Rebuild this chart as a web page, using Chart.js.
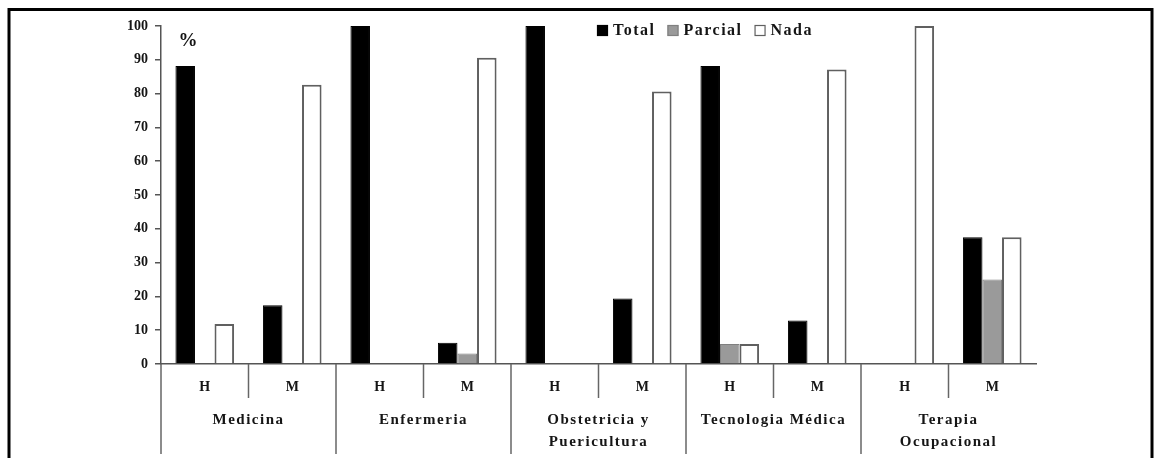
<!DOCTYPE html>
<html>
<head>
<meta charset="utf-8">
<script src="https://cdn.jsdelivr.net/npm/chart.js@4"></script>
<style>
  html, body { margin: 0; padding: 0; background: #fff; }
  #wrap { position: relative; width: 1157px; height: 458px; }
</style>
</head>
<body>
<div id="wrap"><canvas id="grafico" width="1157" height="458"></canvas></div>
<script>
// datos (%)
const categorias = ["H", "M", "H", "M", "H", "M", "H", "M", "H", "M"];
const carreras = [["Medicina"], ["Enfermeria"], ["Obstetricia y", "Puericultura"], ["Tecnologia Médica"], ["Terapia", "Ocupacional"]];
const total = [88.2, 17.4, 100, 6.3, 100, 19.4, 88.2, 12.9, 0, 37.5];
const parcial = [0, 0, 0, 3.1, 0, 0, 5.9, 0, 0, 25];
const nada = [11.8, 82.6, 0, 90.6, 0, 80.6, 5.9, 87.1, 100, 37.5];
const yTicks = [0, 10, 20, 30, 40, 50, 60, 70, 80, 90, 100];

const serif = "'Liberation Serif', 'Times New Roman', serif";
const textColor = "#151515";

const extras = {
    id: "extras",
    beforeDraw(chart) {
        const ctx = chart.ctx;
        ctx.save();
        ctx.fillStyle = "#fff";
        ctx.fillRect(0, 0, chart.width, chart.height);
        ctx.restore();
    },
    afterDraw(chart) {
        const ctx = chart.ctx;
        const x = chart.scales.x;
        const area = chart.chartArea;
        const paso = x.getPixelForValue(1) - x.getPixelForValue(0);

        ctx.save();
        // marco exterior
        ctx.strokeStyle = "#000";
        ctx.lineWidth = 3;
        ctx.strokeRect(9, 9.5, 1143, 520);

        // separadores del eje x
        ctx.strokeStyle = "#666";
        ctx.lineWidth = 1.5;
        carreras.forEach((c, i) => {
            const xH = x.getPixelForValue(2 * i);
            const xM = x.getPixelForValue(2 * i + 1);
            const izq = xH - paso / 2;
            const medio = (xH + xM) / 2;
            ctx.beginPath();
            ctx.moveTo(izq, area.bottom);
            ctx.lineTo(izq, area.bottom + 90);
            ctx.stroke();
            ctx.beginPath();
            ctx.moveTo(medio, area.bottom);
            ctx.lineTo(medio, area.bottom + 34);
            ctx.stroke();
        });

        // nombres de carreras
        ctx.fillStyle = textColor;
        ctx.font = "bold 15px " + serif;
        ctx.letterSpacing = "1.5px";
        ctx.textAlign = "center";
        ctx.textBaseline = "middle";
        carreras.forEach((c, i) => {
            const medio = (x.getPixelForValue(2 * i) + x.getPixelForValue(2 * i + 1)) / 2;
            c.forEach((linea, j) => {
                ctx.fillText(linea, medio, area.bottom + 56 + j * 22);
            });
        });

        // simbolo %
        ctx.font = "bold 19px " + serif;
        ctx.letterSpacing = "0px";
        ctx.fillText("%", area.left + 27, area.top + 15);

        // leyenda
        ctx.font = "bold 16px " + serif;
        ctx.letterSpacing = "1.5px";
        ctx.textAlign = "left";
        let lx = 597;
        const ly = 31;
        chart.data.datasets.forEach(ds => {
            ctx.fillStyle = ds.backgroundColor;
            ctx.fillRect(lx, ly - 6, 11, 11);
            ctx.strokeStyle = ds.borderColor;
            ctx.lineWidth = 1.2;
            ctx.strokeRect(lx + 0.5, ly - 5.5, 10, 10);
            ctx.fillStyle = textColor;
            ctx.fillText(ds.label, lx + 16, ly);
            lx += 16 + ctx.measureText(ds.label).width + 12;
        });
        ctx.restore();
    }
};

new Chart(document.getElementById("grafico").getContext("2d"), {
    type: "bar",
    data: {
        labels: categorias,
        datasets: [
            { label: "Total", data: total, backgroundColor: "#000", borderColor: "#000", borderWidth: 1 },
            { label: "Parcial", data: parcial, backgroundColor: "#9a9a9a", borderColor: "#808080", borderWidth: 1 },
            { label: "Nada", data: nada, backgroundColor: "#fff", borderColor: "#606060", borderWidth: 2 }
        ]
    },
    options: {
        responsive: false,
        animation: false,
        datasets: { bar: { categoryPercentage: 0.67, barPercentage: 1 } },
        layout: { padding: { left: 0, right: 121, top: 26, bottom: 0 } },
        plugins: {
            legend: { display: false },
            tooltip: { enabled: false }
        },
        scales: {
            y: {
                min: 0,
                max: 100,
                afterBuildTicks: scale => { scale.ticks = yTicks.map(v => ({ value: v })); },
                afterFit: scale => { scale.width = 161; },
                grid: { drawOnChartArea: false, tickLength: 6, color: "#555", lineWidth: 1.5 },
                border: { color: "#555", width: 1.5 },
                ticks: {
                    padding: 7,
                    color: textColor,
                    font: { family: serif, size: 14, weight: "bold" }
                }
            },
            x: {
                afterFit: scale => { scale.height = 94; },
                grid: { display: false, drawTicks: false },
                border: { color: "#555", width: 1.5 },
                ticks: {
                    padding: 15,
                    color: textColor,
                    font: { family: serif, size: 14, weight: "bold" }
                }
            }
        }
    },
    plugins: [extras]
});
</script>
</body>
</html>
